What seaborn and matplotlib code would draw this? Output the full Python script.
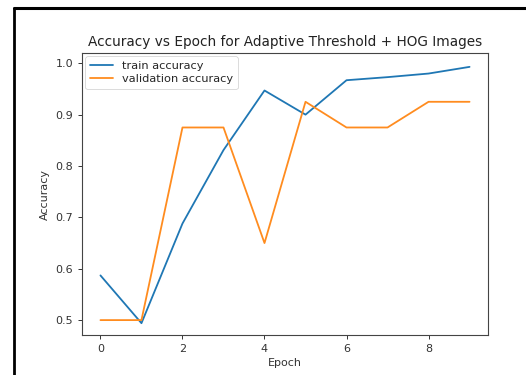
import matplotlib
matplotlib.use("Agg")
import matplotlib.pyplot as plt
import seaborn as sns
import pandas as pd
from matplotlib.lines import Line2D

epochs = [0, 1, 2, 3, 4, 5, 6, 7, 8, 9]
train_acc = [0.587, 0.494, 0.688, 0.831, 0.947, 0.900, 0.967, 0.973, 0.980, 0.993]
val_acc = [0.500, 0.500, 0.875, 0.875, 0.650, 0.925, 0.875, 0.875, 0.925, 0.925]
series_names = ["train accuracy", "validation accuracy"]
title = "Accuracy vs Epoch for Adaptive Threshold + HOG Images"

sns.set_style("ticks")
plt.rcParams['font.family'] = ['DejaVu Sans']

df = pd.DataFrame({
    "Epoch": epochs * 2,
    "Accuracy": train_acc + val_acc,
    "series": [series_names[0]] * len(epochs) + [series_names[1]] * len(epochs),
})

W, H = 526, 375
fig = plt.figure(figsize=(W / 100, H / 100), dpi=100)
fig.patch.set_facecolor("white")
ax = fig.add_axes([82 / W, 1 - 335 / H, (488 - 82) / W, (335 - 53) / H])

sns.lineplot(data=df, x="Epoch", y="Accuracy", hue="series",
             palette=["#1f77b4", "#ff8c1f"], ax=ax, linewidth=1.3)

ax.set_xlim(-0.45, 9.45)
ax.set_ylim(0.471, 1.02)
ax.set_xticks([0, 2, 4, 6, 8])
ax.set_yticks([0.5, 0.6, 0.7, 0.8, 0.9, 1.0])
ax.tick_params(labelsize=8, length=3, width=0.7, colors="#333333")
for s in ax.spines.values():
    s.set_visible(True)
    s.set_linewidth(0.8)
    s.set_color("#444444")
ax.set_xlabel("Epoch", fontsize=8, color="#333333", labelpad=3)
ax.set_ylabel("Accuracy", fontsize=8, color="#333333")
ax.set_title(title, fontsize=9.8, color="#222222", pad=5)
leg = ax.legend(loc="upper left", fontsize=8.2, frameon=True, borderaxespad=0.3,
                handlelength=2.0, labelspacing=0.3)
leg.get_frame().set_linewidth(0.6)

# screenshot border
fig.add_artist(Line2D([14 / W, 1.0], [1 - 8 / H, 1 - 8 / H], color="black", linewidth=2.2,
                      transform=fig.transFigure))
fig.add_artist(Line2D([14 / W, 14 / W], [0, 1 - 8 / H], color="black", linewidth=2.0,
                      transform=fig.transFigure))

fig.savefig("out.png", dpi=100)
